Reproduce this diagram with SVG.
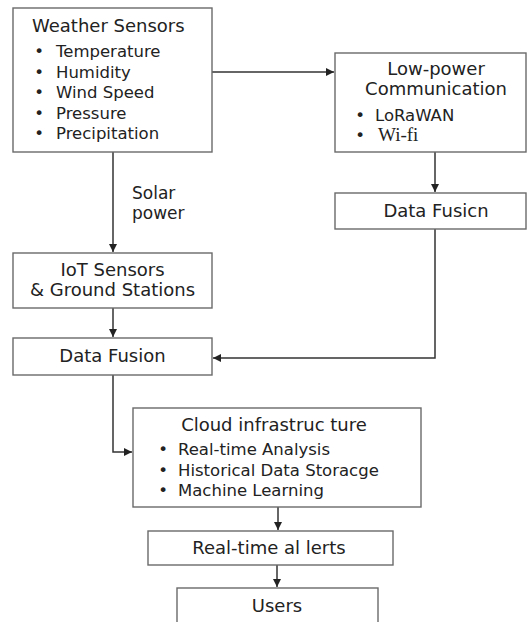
<svg xmlns="http://www.w3.org/2000/svg" width="527" height="622" viewBox="0 0 527 622">
<style>
.box{fill:#fff;stroke:#6a6a6a;stroke-width:1.4}
.t{font-family:"DejaVu Sans",sans-serif;fill:#222;font-size:18px}
.b{font-family:"DejaVu Sans",sans-serif;fill:#222;font-size:16.5px}
.c{text-anchor:middle}
.s{font-family:"Liberation Serif",serif;fill:#222;font-size:19px}
.ln{fill:none;stroke:#333;stroke-width:1.5}
</style>
<defs>
<marker id="ah" markerUnits="userSpaceOnUse" markerWidth="10" markerHeight="10" refX="8" refY="4" orient="auto">
<path d="M0,0 L8,4 L0,8 Z" fill="#222"/>
</marker>
</defs>
<rect width="527" height="622" fill="#fff"/>
<g id="connectors">
<path class="ln" d="M212,72 H334" marker-end="url(#ah)"/>
<path class="ln" d="M113,152 V252" marker-end="url(#ah)"/>
<path class="ln" d="M435,152 V192" marker-end="url(#ah)"/>
<path class="ln" d="M113,308 V337" marker-end="url(#ah)"/>
<path class="ln" d="M435,229 V358 H213" marker-end="url(#ah)"/>
<path class="ln" d="M113,375 V452 H132" marker-end="url(#ah)"/>
<path class="ln" d="M278,507 V530" marker-end="url(#ah)"/>
<path class="ln" d="M277,565 V587" marker-end="url(#ah)"/>
</g>
<g id="weather-sensors">
<rect class="box" x="13" y="8" width="199" height="144"/>
<text class="t" x="32" y="32">Weather Sensors</text>
<text class="b c" x="39" y="57.3">•</text><text class="b" x="56" y="57.3">Temperature</text>
<text class="b c" x="39" y="77.8">•</text><text class="b" x="56" y="77.8">Humidity</text>
<text class="b c" x="39" y="98.3">•</text><text class="b" x="56" y="98.3">Wind Speed</text>
<text class="b c" x="39" y="118.8">•</text><text class="b" x="56" y="118.8">Pressure</text>
<text class="b c" x="39" y="139.3">•</text><text class="b" x="56" y="139.3">Precipitation</text>
</g>
<g id="solar-label">
<text class="t" x="132" y="199" style="font-size:17px">Solar</text>
<text class="t" x="132" y="219" style="font-size:17px">power</text>
</g>
<g id="low-power">
<rect class="box" x="335" y="53" width="191" height="99"/>
<text class="t c" x="436" y="75">Low-power</text>
<text class="t c" x="436" y="95">Communication</text>
<text class="b c" x="360" y="120.5">•</text><text class="b" x="375" y="120.5">LoRaWAN</text>
<text class="b c" x="360" y="140.5">•</text><text class="s" x="378" y="140.5">Wi-fi</text>
</g>
<g id="data-fusicn">
<rect class="box" x="335" y="193" width="191" height="36"/>
<text class="t c" x="436" y="217">Data Fusicn</text>
</g>
<g id="iot">
<rect class="box" x="13" y="253" width="199" height="55"/>
<text class="t c" x="112.5" y="276">IoT Sensors</text>
<text class="t c" x="112.5" y="296">&amp; Ground Stations</text>
</g>
<g id="data-fusion">
<rect class="box" x="13" y="338" width="199" height="37"/>
<text class="t c" x="112.5" y="362">Data Fusion</text>
</g>
<g id="cloud">
<rect class="box" x="133" y="408" width="288" height="99"/>
<text class="t c" x="274" y="431">Cloud infrastruc ture</text>
<text class="b c" x="163" y="455">•</text><text class="b" x="178" y="455">Real-time Analysis</text>
<text class="b c" x="163" y="476">•</text><text class="b" x="178" y="476">Historical Data Storacge</text>
<text class="b c" x="163" y="496">•</text><text class="b" x="178" y="496">Machine Learning</text>
</g>
<g id="alerts">
<rect class="box" x="148" y="531" width="245" height="34"/>
<text class="t c" x="269" y="554">Real-time al lerts</text>
</g>
<g id="users">
<rect class="box" x="177" y="588" width="201" height="40"/>
<text class="t c" x="277" y="612">Users</text>
</g>
</svg>
